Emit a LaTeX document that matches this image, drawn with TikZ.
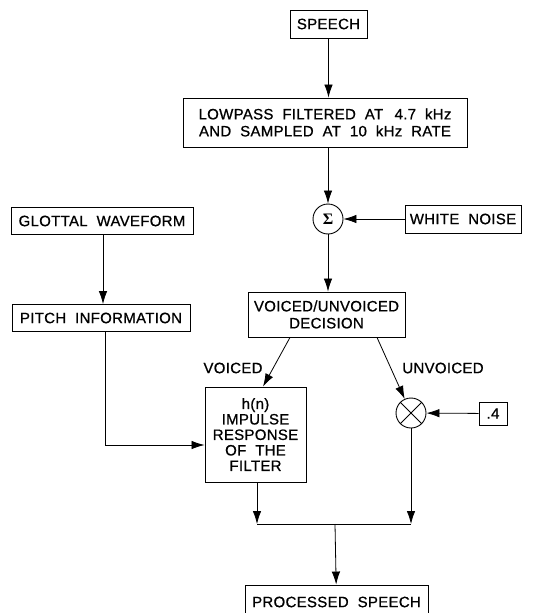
\documentclass[tikz,border=0pt]{standalone}
\usepackage{fontspec}
\setmainfont{Liberation Sans}[WordSpace=2,LetterSpace=2,FakeBold=0.8]
\newfontfamily\sigmafont{Liberation Serif}
\usetikzlibrary{arrows.meta}

\tikzset{
  blk/.style={draw, line width=0.9pt, inner sep=0pt, align=center,
    font=\fontsize{15}{17}\selectfont},
  junc/.style={draw, circle, line width=0.9pt, minimum size=30pt, inner sep=0pt},
  lbl/.style={font=\fontsize{15}{17}\selectfont},
  flow/.style={-{Latex[length=13pt,width=8.5pt]}, line width=0.8pt}
}

\begin{document}
\begin{tikzpicture}[x=1pt,y=-1pt]
\useasboundingbox (0,0) rectangle (533,613);

\node[blk, minimum width=77, minimum height=28] (speech) at (328.5,24) {SPEECH};
\node[blk, minimum width=284, minimum height=49] (lowpass) at (325,122.5)
  {LOWPASS FILTERED AT \,4.7 kHz\\AND SAMPLED AT 10 kHz RATE};
\node[junc] (sum) at (328,219) {\sigmafont\bfseries\fontsize{16}{16}\selectfont Σ};
\node[blk, minimum width=116, minimum height=28] (noise) at (463,219) {WHITE NOISE};

\node[blk, minimum width=182, minimum height=27] (glottal) at (102,221) {GLOTTAL WAVEFORM};
\node[blk, minimum width=178, minimum height=27] (pitch) at (101,318) {PITCH INFORMATION};

\node[blk, minimum width=157, minimum height=45] (decision) at (326.5,314.5)
  {VOICED/UNVOICED\\DECISION};
\node[lbl] (voiced) at (233,368) {VOICED};
\node[lbl] (unvoiced) at (443,368) {UNVOICED};

\node[blk, minimum width=101, minimum height=95, font=\fontsize{15}{15.5}\selectfont] (hn)
  at (255.5,434.5) {h(n)\\IMPULSE\\RESPONSE\\OF THE\\FILTER};
\node[junc] (mul) at (411,413) {};
\draw[line width=0.8pt] (mul.45) -- (mul.225) (mul.135) -- (mul.315);
\node[blk, minimum width=28, minimum height=23] (gain) at (493,413.5) {.4};

\node[blk, minimum width=183, minimum height=34] (processed) at (336.5,602) {PROCESSED SPEECH};

\coordinate (jl) at (257,524);
\coordinate (jr) at (411,524);
\coordinate (join) at (335,524);

\draw[flow] (speech) -- (speech |- lowpass.north);
\draw[flow] (sum |- lowpass.south) -- (sum);
\draw[flow] (noise) -- (sum);
\draw[flow] (sum.south) -- (sum.south |- decision.north);
\draw[flow] ([xshift=1pt]glottal.south) -- ([xshift=1pt]glottal.south |- pitch.north);
\draw[flow] ([xshift=4pt]pitch.south) |- ([yshift=-10.5pt]hn.west);
\draw[flow] ([xshift=-36.5pt]decision.south) -- ([xshift=7.5pt]hn.north);
\draw[flow] ([xshift=50.5pt]decision.south) -- (mul);
\draw[flow] (gain) -- (mul);
\draw[flow] (jl |- hn.south) -- (jl);
\draw[flow] (mul.south) -- (jr);
\draw[line width=0.8pt] (jl) -- (jr);
\draw[flow] (join) -- (processed);

\end{tikzpicture}
\end{document}
